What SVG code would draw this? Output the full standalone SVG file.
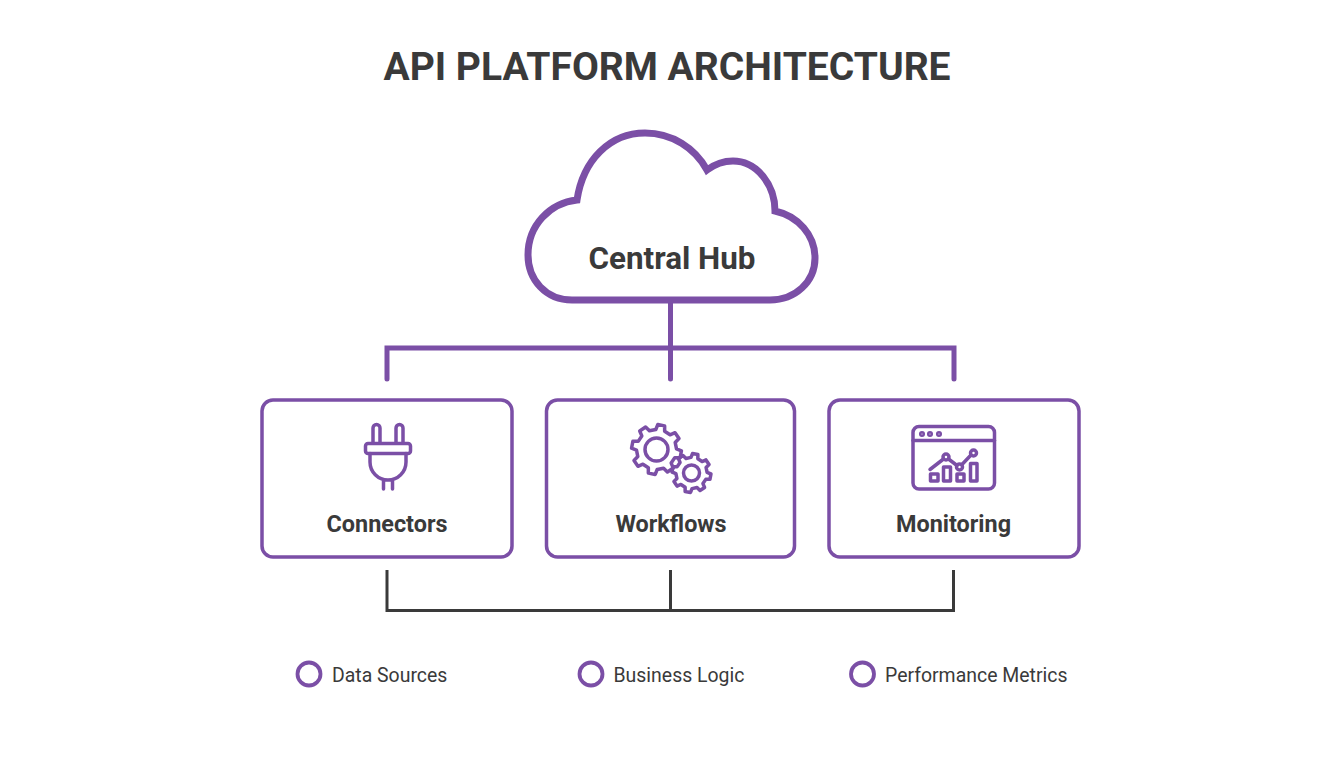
<svg xmlns="http://www.w3.org/2000/svg" width="1344" height="768" viewBox="0 0 1344 768">
<style>
text{font-family:Roboto,"Liberation Sans",sans-serif;fill:#3a3a3a}
.title{font-size:39px;font-weight:700;text-anchor:middle}
.hub{font-size:31.400px;font-weight:700;text-anchor:middle}
.name{font-size:23.400px;font-weight:700;text-anchor:middle}
.leg{font-size:19.450px}
.box{fill:#fff;stroke:#7b4fa6;stroke-width:3.500}
.icon{fill:none;stroke:#7b4fa6;stroke-width:3.500;stroke-linejoin:round;stroke-linecap:round}
.dot{fill:none;stroke:#7b4fa6;stroke-width:3.800}
.p{fill:none;stroke:#7b4fa6;stroke-width:5;stroke-linecap:round}
.d{fill:none;stroke:#3a3a3a;stroke-width:3}
</style>
<defs>
<polygon id="gear" points="78,-18 99,-14 99,14 78,18 68,42 80,60 60,80 42,68 18,78 14,99 -14,99 -18,78 -42,68 -60,80 -80,60 -68,42 -78,18 -99,14 -99,-14 -78,-18 -68,-42 -80,-60 -60,-80 -42,-68 -18,-78 -14,-99 14,-99 18,-78 42,-68 60,-80 80,-60 68,-42"/>
</defs>
<rect width="1344" height="768" fill="#fff"/>
<text class="title" x="667" y="79.500">API PLATFORM ARCHITECTURE</text>
<g id="connectors">
<path class="p" d="M670.500 300V379M387 379V348H954V379"/>
<path class="d" d="M387 570V610.500H953.500V570M670.500 570V610.500"/>
</g>
<g id="hub">
<path d="M572 300C546 300 528 280 528 255C528 225 550 203 577 200C583 160 610 133 645 133C672 133 695 148 707 170C715 164 724 161 733 161C757 161 775 185 775 211C798 216 815 235 815 258C815 282 795 300 770 300Z" fill="#fff" stroke="#7b4fa6" stroke-width="7" stroke-linejoin="miter"/>
<text class="hub" x="672" y="269">Central Hub</text>
</g>
<g id="connectors-node">
<rect class="box" x="262" y="400" width="250" height="157" rx="11"/>
<g class="icon">
<path d="M373 443V428a3.500 3.500 0 0 1 7 0V443M396 443V428a3.500 3.500 0 0 1 7 0V443"/>
<rect x="365.500" y="443.500" width="45" height="10" rx="2.500"/>
<path d="M370 453.500V462C370 472 378 480 388 480C398 480 406 472 406 462V453.500M383.500 480V489M392.500 480V489"/>
</g>
<text class="name" x="387" y="532">Connectors</text>
</g>
<g id="workflows-node">
<rect class="box" x="546.500" y="400" width="248" height="157" rx="11"/>
<g class="icon">
<use href="#gear" transform="translate(656.500 449.500) rotate(11) scale(.25)" style="stroke-width:14"/>
<circle cx="656.500" cy="449.500" r="11.500"/>
<use href="#gear" transform="translate(691.500 473) rotate(11) scale(.195)" style="stroke-width:18"/>
<circle cx="691.500" cy="473" r="8"/>
</g>
<text class="name" x="671" y="532">Workflows</text>
</g>
<g id="monitoring-node">
<rect class="box" x="829" y="400" width="250" height="157" rx="11"/>
<g class="icon">
<rect x="913" y="426.500" width="81.500" height="62.500" rx="6"/>
<path d="M913 440.500H994.500"/>
<circle cx="922" cy="434" r="1.800" style="stroke-width:2.500"/><circle cx="930" cy="434" r="1.800" style="stroke-width:2.500"/><circle cx="939" cy="434" r="1.800" style="stroke-width:2.500"/>
<rect x="930.500" y="474" width="7.500" height="7"/>
<rect x="943.500" y="467" width="7" height="14"/>
<rect x="957" y="474" width="7" height="7"/>
<rect x="970.500" y="463.500" width="6.500" height="17.500"/>
<path d="M930 469.500L943.500 459M948.500 459L957 465.500M962 464.500L971 455"/>
<circle cx="946" cy="457" r="3"/><circle cx="959.500" cy="467" r="3"/><circle cx="973.500" cy="453" r="3"/>
</g>
<text class="name" x="953.500" y="532">Monitoring</text>
</g>
<g id="legend-data-sources"><circle class="dot" cx="309" cy="674" r="11.500"/><text class="leg" x="332" y="681.500">Data Sources</text></g>
<g id="legend-business-logic"><circle class="dot" cx="591" cy="674" r="11.500"/><text class="leg" x="613.500" y="681.500">Business Logic</text></g>
<g id="legend-performance-metrics"><circle class="dot" cx="862.500" cy="674" r="11.500"/><text class="leg" x="885" y="681.500">Performance Metrics</text></g>
</svg>
